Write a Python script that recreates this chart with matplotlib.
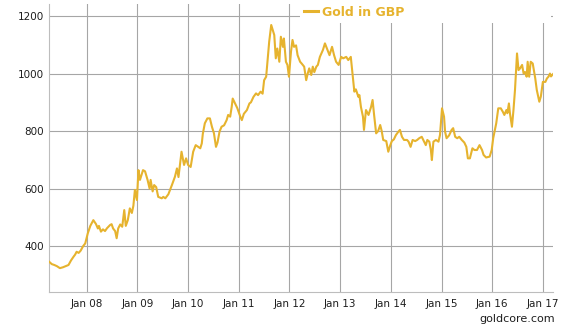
import matplotlib
matplotlib.use("Agg")
import matplotlib.pyplot as plt

# Gold price in GBP per ounce, sampled roughly every two weeks (decimal year, price)
years = [
    2007.26, 2007.31, 2007.36, 2007.41, 2007.47, 2007.53, 2007.61, 2007.64, 2007.69, 2007.74,
    2007.77, 2007.80, 2007.84, 2007.88, 2007.93, 2007.97, 2008.02, 2008.07, 2008.13, 2008.18,
    2008.22, 2008.24, 2008.28, 2008.32, 2008.36, 2008.40, 2008.46, 2008.49, 2008.52, 2008.56,
    2008.59, 2008.62, 2008.66, 2008.70, 2008.74, 2008.77, 2008.81, 2008.85, 2008.89, 2008.92,
    2008.95, 2008.99, 2009.02, 2009.05, 2009.11, 2009.15, 2009.20, 2009.24, 2009.26, 2009.30,
    2009.33, 2009.37, 2009.41, 2009.48, 2009.51, 2009.55, 2009.61, 2009.68, 2009.74, 2009.78,
    2009.81, 2009.87, 2009.92, 2009.96, 2010.00, 2010.05, 2010.10, 2010.15, 2010.20, 2010.24,
    2010.27, 2010.29, 2010.33, 2010.38, 2010.43, 2010.47, 2010.51, 2010.55, 2010.58, 2010.62,
    2010.66, 2010.71, 2010.76, 2010.79, 2010.83, 2010.86, 2010.88, 2010.93, 2010.97, 2011.03,
    2011.06, 2011.10, 2011.16, 2011.21, 2011.24, 2011.29, 2011.34, 2011.38, 2011.43, 2011.47,
    2011.50, 2011.54, 2011.56, 2011.60, 2011.64, 2011.67, 2011.70, 2011.73, 2011.76, 2011.80,
    2011.83, 2011.87, 2011.89, 2011.93, 2011.96, 2011.99, 2012.03, 2012.06, 2012.09, 2012.13,
    2012.16, 2012.21, 2012.24, 2012.29, 2012.33, 2012.36, 2012.39, 2012.43, 2012.46, 2012.49,
    2012.53, 2012.56, 2012.60, 2012.66, 2012.70, 2012.74, 2012.79, 2012.84, 2012.88, 2012.92,
    2012.97, 2013.02, 2013.06, 2013.12, 2013.16, 2013.21, 2013.25, 2013.28, 2013.31, 2013.36,
    2013.38, 2013.41, 2013.45, 2013.47, 2013.51, 2013.56, 2013.61, 2013.64, 2013.67, 2013.71,
    2013.75, 2013.79, 2013.82, 2013.85, 2013.91, 2013.95, 2013.99, 2014.02, 2014.06, 2014.10,
    2014.15, 2014.18, 2014.22, 2014.26, 2014.32, 2014.35, 2014.39, 2014.43, 2014.48, 2014.52,
    2014.56, 2014.61, 2014.64, 2014.69, 2014.72, 2014.76, 2014.79, 2014.81, 2014.84, 2014.89,
    2014.94, 2014.97, 2015.01, 2015.05, 2015.07, 2015.10, 2015.15, 2015.20, 2015.23, 2015.27,
    2015.31, 2015.35, 2015.40, 2015.45, 2015.49, 2015.52, 2015.56, 2015.61, 2015.65, 2015.70,
    2015.75, 2015.80, 2015.83, 2015.88, 2015.95, 2015.99, 2016.02, 2016.08, 2016.12, 2016.17,
    2016.21, 2016.24, 2016.28, 2016.30, 2016.33, 2016.35, 2016.39, 2016.42, 2016.45, 2016.49,
    2016.52, 2016.55, 2016.59, 2016.62, 2016.65, 2016.68, 2016.70, 2016.73, 2016.76, 2016.80,
    2016.85, 2016.88, 2016.93, 2016.96, 2017.00, 2017.05, 2017.08, 2017.11, 2017.14, 2017.16,
    2017.21,
]
gold_gbp = [
    345, 337, 334, 330, 323, 326, 332, 334, 350, 363,
    370, 380, 376, 384, 400, 409, 444, 470, 490, 477,
    461, 470, 450, 458, 452, 462, 473, 476, 461, 452,
    427, 461, 475, 467, 525, 470, 490, 531, 515, 540,
    595, 560, 664, 630, 664, 660, 630, 600, 630, 590,
    612, 605, 571, 566, 571, 566, 580, 612, 641, 670,
    640, 728, 682, 705, 682, 675, 728, 751, 745, 740,
    757, 790, 827, 844, 844, 815, 792, 745, 760, 798,
    815, 820, 838, 856, 850, 884, 913, 895, 880, 850,
    838, 860, 873, 896, 900, 919, 931, 925, 937, 930,
    977, 989, 1030, 1111, 1169, 1151, 1134, 1053, 1087, 1041,
    1128, 1093, 1122, 1041, 1030, 989, 1076, 1117, 1093, 1098,
    1064, 1041, 1035, 1024, 977, 1000, 1018, 995, 1024, 1005,
    1024, 1030, 1058, 1082, 1105, 1087, 1064, 1093, 1064, 1041,
    1030, 1058, 1053, 1058, 1047, 1058, 989, 937, 945, 919,
    925, 884, 850, 804, 873, 856, 884, 908, 856, 792,
    800, 821, 800, 769, 765, 728, 751, 765, 771, 786,
    798, 804, 780, 769, 769, 763, 745, 769, 765, 769,
    775, 780, 769, 751, 769, 763, 734, 699, 763, 769,
    763, 786, 879, 850, 798, 775, 785, 804, 810, 780,
    775, 780, 769, 760, 745, 705, 705, 740, 734, 734,
    751, 734, 717, 708, 711, 734, 775, 827, 879, 879,
    867, 856, 873, 862, 896, 862, 815, 873, 943, 1070,
    1012, 1018, 1030, 1000, 1005, 989, 1041, 989, 1041, 1035,
    983, 943, 902, 920, 971, 971, 983, 989, 1000, 990,
    1000,
]

tick_years = [2008, 2009, 2010, 2011, 2012, 2013, 2014, 2015, 2016, 2017]
tick_labels = ["Jan 08", "Jan 09", "Jan 10", "Jan 11", "Jan 12",
               "Jan 13", "Jan 14", "Jan 15", "Jan 16", "Jan 17"]
y_ticks = [400, 600, 800, 1000, 1200]

GOLD = "#E6B32E"
GRID = "#a6a6a6"
TEXT = "#1e1e1e"

plt.rcParams["font.family"] = ["DejaVu Sans"]

fig = plt.figure(figsize=(5.68, 3.33), dpi=100)
ax = fig.add_axes([49 / 568, 41 / 333, 504 / 568, 288 / 333])

ax.plot(years, gold_gbp, color=GOLD, lw=1.5, solid_joinstyle="round",
        label="Gold in GBP", zorder=3)

ax.set_xlim(2007.255, 2017.20)
ax.set_ylim(240, 1242)
ax.set_xticks(tick_years)
ax.set_xticklabels(tick_labels)
ax.set_yticks(y_ticks)

ax.grid(True, color=GRID, lw=0.8, zorder=0)
ax.set_axisbelow(True)
for side in ("top", "right"):
    ax.spines[side].set_visible(False)
for side in ("left", "bottom"):
    ax.spines[side].set_color("#bdbdbd")
    ax.spines[side].set_linewidth(0.8)

ax.tick_params(axis="both", length=0, labelsize=7.5, labelcolor=TEXT)
ax.tick_params(axis="x", pad=5)
ax.tick_params(axis="y", pad=3.5)

# White legend band across the top right of the plot
leg = ax.legend(loc="upper left", bbox_to_anchor=(300 / 568, 1 - 2 / 333, 251 / 568, 0.0),
                bbox_transform=fig.transFigure, mode="expand",
                frameon=True, fancybox=False, framealpha=1.0,
                borderpad=0.3, borderaxespad=0, handlelength=1.1,
                handletextpad=0.4, prop={"weight": "bold", "size": 9})
leg.get_frame().set_facecolor("white")
leg.get_frame().set_edgecolor("none")
leg.get_lines()[0].set_linewidth(2.2)
for t in leg.get_texts():
    t.set_color(GOLD)
leg.set_zorder(5)

fig.text(555 / 568, 1 - 319.5 / 333, "goldcore.com", ha="right", va="center",
         fontsize=8, color=TEXT)

fig.savefig("out.png", dpi=100, facecolor="white")
